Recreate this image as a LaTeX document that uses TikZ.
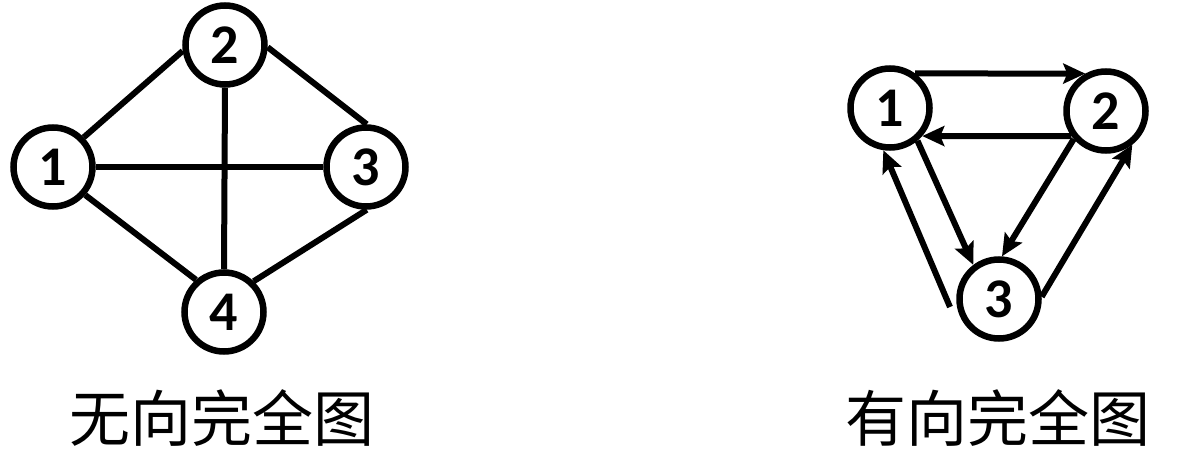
\documentclass[tikz,border=0pt]{standalone}
\usepackage{fontspec}
\setmainfont{Carlito}
\newfontfamily\cjk{Noto Sans CJK SC}
\usetikzlibrary{arrows.meta}
\begin{document}
\begin{tikzpicture}[x=1pt,y=-1pt,
  vtx/.style={circle,draw,line width=6.5pt,minimum size=79pt,inner sep=0pt,
    font=\fontsize{56}{56}\selectfont\bfseries},
  edge/.style={line width=6pt},
  arr/.style={line width=6pt,-{Stealth[length=22pt,width=20pt,inset=4pt]}},
  caption/.style={font=\cjk\fontsize{61}{61}\selectfont}]
\useasboundingbox (0,0) rectangle (1184,474);
% undirected complete graph
\node[vtx] (a1) at (53,167) {1};
\node[vtx] (a2) at (225,45) {2};
\node[vtx] (a3) at (366,167) {3};
\node[vtx] (a4) at (224,312) {4};
\draw[edge] (a1.44) -- (a2.188);
\draw[edge] (a2.-3) -- (a3.89);
\draw[edge] (a1.-41) -- (a4.131);
\draw[edge] (a3.-89) -- (a4.46);
\draw[edge] (a1.east) -- (a3.west);
\draw[edge] (a2.south) -- (a4.north);
\node[caption] (c1) at (222,418) {无向完全图};
% directed complete graph
\node[vtx] (b1) at (890,108) {1};
\node[vtx] (b2) at (1106,111) {2};
\node[vtx] (b3) at (999,299) {3};
\coordinate (t31) at (950,307);
\draw[arr] (b1.54) -- (b2.119);
\draw[arr] (b2.216) -- (b1.319);
\draw[arr] (b1.-50) -- (b3.127);
\draw[arr] (b2.221) -- (b3.86);
\draw[arr] (b3.3) -- (b2.-52);
\draw[arr] (t31) -- (b1.261);
\node[caption] (c2) at (998,418) {有向完全图};
\end{tikzpicture}
\end{document}
